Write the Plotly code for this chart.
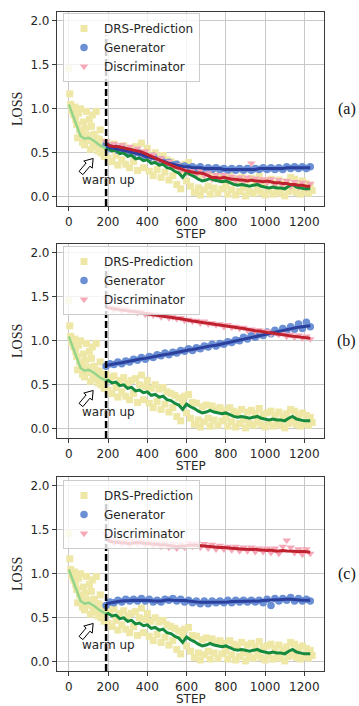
import numpy as np
import plotly.graph_objects as go
from plotly.subplots import make_subplots

# ---------------- data ----------------
SERIES_NAMES = ["DRS-Prediction", "Generator", "Discriminator"]
PANEL_LABELS = ["(a)", "(b)", "(c)"]
X_TICKS = [0, 200, 400, 600, 800, 1000, 1200]
Y_TICKS = [0.0, 0.5, 1.0, 1.5, 2.0]
WARMUP_STEP = 190

# DRS prediction scatter (shared by the three runs)
DRS_STEP = [0, 5, 10, 15, 20, 25, 30, 35, 40, 45, 50, 55, 60, 65, 70, 75, 80, 85, 90, 95,
            100, 105, 110, 115, 120, 125, 130, 135, 140, 145, 150, 155, 160, 165, 170, 175, 180, 185,
            190, 200, 210, 220, 230, 240, 250, 260, 270, 280, 290, 300, 310, 320, 330, 340, 350,
            360, 370, 380, 390, 400, 410, 420, 430, 440, 450, 460, 470, 480, 490, 500, 510, 520,
            530, 540, 550, 560, 570, 580, 590, 600, 610, 620, 630, 640, 650, 660, 670, 680, 690,
            700, 710, 720, 730, 740, 750, 760, 770, 780, 790, 800, 810, 820, 830, 840, 850, 860,
            870, 880, 890, 900, 910, 920, 930, 940, 950, 960, 970, 980, 990, 1000, 1010, 1020,
            1030, 1040, 1050, 1060, 1070, 1080, 1090, 1100, 1110, 1120, 1130, 1140, 1150, 1160,
            1170, 1180, 1190, 1200, 1210, 1220, 1230, 1240]
DRS_LOSS = [1.46, 1.17, 1.05, 0.98, 1.00, 0.93, 1.02, 0.88, 0.82, 0.67, 0.95, 0.76, 1.00, 0.72,
            0.62, 0.85, 0.59, 0.78, 0.97, 0.70, 0.64, 0.88, 0.54, 0.80, 0.93, 0.60, 0.71, 0.57,
            0.97, 0.66, 0.52, 0.65, 0.76, 0.50, 0.58, 0.62, 0.46, 0.55,
            0.62, 0.44, 0.58, 0.40, 0.60, 0.47, 0.36, 0.55, 0.42, 0.58, 0.37, 0.52, 0.33, 0.55,
            0.40, 0.57, 0.30, 0.50, 0.61, 0.33, 0.48, 0.55, 0.29, 0.46, 0.24, 0.50, 0.31, 0.45,
            0.22, 0.47, 0.28, 0.42, 0.19, 0.40, 0.24, 0.38, 0.14, 0.35, 0.09, 0.30, 0.37, 0.18,
            0.39, 0.12, 0.30, 0.05, 0.29, 0.10, 0.02, 0.25, 0.08, 0.27, 0.12, 0.03, 0.26, 0.10,
            0.22, 0.04, 0.24, 0.09, 0.21, 0.12, 0.03, 0.24, 0.08, 0.20, 0.02, 0.18, 0.06, 0.22,
            0.10, 0.01, 0.19, 0.06, 0.21, 0.04, 0.17, 0.08, 0.23, 0.05, 0.16, 0.02, 0.18, 0.07,
            0.20, 0.03, 0.15, 0.06, 0.19, 0.04, 0.14, 0.01, 0.17, 0.06, 0.22, 0.08, 0.20, 0.05,
            0.16, 0.03, 0.18, 0.06, 0.15, 0.04, 0.13, 0.07]

# DRS smoothed curve during warm up (light green) and after (dark green)
WARM_STEP = [0, 20, 40, 60, 80, 100, 120, 140, 160, 180, 190]
WARM_SMOOTH = [1.05, 0.93, 0.80, 0.69, 0.66, 0.67, 0.65, 0.61, 0.58, 0.56, 0.54]
DRS_SMOOTH_STEP = [190, 200, 220, 240, 260, 280, 300, 320, 340, 360, 380, 400, 420, 440, 460,
                   480, 500, 520, 540, 560, 580, 600, 620, 640, 660, 680, 700, 720, 740, 760,
                   780, 800, 820, 840, 860, 880, 900, 920, 940, 960, 980, 1000, 1020, 1040,
                   1060, 1080, 1100, 1120, 1140, 1160, 1180, 1200, 1220, 1230]
DRS_SMOOTH = [0.54, 0.55, 0.52, 0.53, 0.49, 0.50, 0.46, 0.47, 0.43, 0.44, 0.41, 0.42, 0.38,
              0.39, 0.36, 0.37, 0.33, 0.32, 0.29, 0.27, 0.22, 0.28, 0.25, 0.23, 0.20, 0.18,
              0.19, 0.21, 0.19, 0.18, 0.17, 0.18, 0.16, 0.14, 0.13, 0.14, 0.13, 0.12, 0.13,
              0.14, 0.12, 0.11, 0.10, 0.11, 0.10, 0.10, 0.09, 0.12, 0.14, 0.11, 0.10, 0.09,
              0.09, 0.09]

# Generator / Discriminator (after warm up)
GD_STEP = [190, 210, 230, 250, 270, 290, 310, 330, 350, 370, 390, 410, 430, 450, 470, 490,
           510, 530, 550, 570, 590, 610, 630, 650, 670, 690, 710, 730, 750, 770, 790, 810,
           830, 850, 870, 890, 910, 930, 950, 970, 990, 1010, 1030, 1050, 1070, 1090, 1110,
           1130, 1150, 1170, 1190, 1210, 1230]

# (a)
GEN_PTS_A = [0.59, 0.55, 0.57, 0.53, 0.55, 0.51, 0.52, 0.49, 0.51, 0.47, 0.47, 0.44, 0.46,
             0.42, 0.42, 0.39, 0.39, 0.36, 0.37, 0.34, 0.35, 0.33, 0.34, 0.32, 0.34, 0.31,
             0.33, 0.31, 0.33, 0.31, 0.32, 0.30, 0.32, 0.30, 0.32, 0.30, 0.32, 0.30, 0.32,
             0.31, 0.33, 0.31, 0.33, 0.31, 0.33, 0.31, 0.34, 0.32, 0.34, 0.32, 0.34, 0.32, 0.34]
GEN_LINE_A = [0.57, 0.56, 0.55, 0.54, 0.53, 0.52, 0.51, 0.50, 0.49, 0.48, 0.46, 0.45, 0.44,
              0.43, 0.41, 0.40, 0.38, 0.37, 0.36, 0.35, 0.34, 0.34, 0.33, 0.33, 0.33, 0.32,
              0.32, 0.32, 0.32, 0.32, 0.31, 0.31, 0.31, 0.31, 0.31, 0.31, 0.31, 0.31, 0.31,
              0.32, 0.32, 0.32, 0.32, 0.32, 0.32, 0.32, 0.33, 0.33, 0.33, 0.33, 0.33, 0.33, 0.33]
DIS_PTS_A = [0.63, 0.56, 0.60, 0.55, 0.59, 0.53, 0.57, 0.51, 0.55, 0.49, 0.52, 0.45, 0.48,
             0.41, 0.44, 0.37, 0.40, 0.33, 0.36, 0.30, 0.33, 0.27, 0.31, 0.25, 0.30, 0.24,
             0.27, 0.20, 0.25, 0.19, 0.25, 0.19, 0.23, 0.18, 0.22, 0.17, 0.22, 0.38, 0.21,
             0.16, 0.20, 0.16, 0.20, 0.14, 0.19, 0.13, 0.18, 0.12, 0.17, 0.11, 0.16, 0.10, 0.15]
DIS_LINE_A = [0.60, 0.58, 0.57, 0.57, 0.56, 0.55, 0.54, 0.53, 0.52, 0.51, 0.49, 0.47, 0.45,
              0.43, 0.41, 0.39, 0.37, 0.35, 0.33, 0.32, 0.30, 0.29, 0.28, 0.27, 0.27, 0.26,
              0.24, 0.22, 0.22, 0.21, 0.22, 0.21, 0.20, 0.20, 0.19, 0.19, 0.18, 0.19, 0.18,
              0.18, 0.17, 0.18, 0.17, 0.16, 0.16, 0.15, 0.15, 0.14, 0.14, 0.13, 0.13, 0.12, 0.12]

# (b)
GEN_PTS_B = [0.71, 0.74, 0.73, 0.76, 0.74, 0.77, 0.76, 0.79, 0.78, 0.81, 0.79, 0.82, 0.81,
             0.84, 0.83, 0.86, 0.84, 0.87, 0.86, 0.89, 0.88, 0.91, 0.89, 0.92, 0.91, 0.94,
             0.93, 0.96, 0.94, 0.97, 0.96, 0.99, 0.98, 1.01, 1.00, 1.04, 1.02, 1.06, 1.04,
             1.07, 1.06, 1.10, 1.08, 1.12, 1.09, 1.14, 1.11, 1.16, 1.13, 1.19, 1.14, 1.21, 1.16]
GEN_LINE_B = [0.72, 0.73, 0.74, 0.745, 0.75, 0.76, 0.77, 0.78, 0.79, 0.795, 0.80, 0.81, 0.82,
              0.83, 0.84, 0.845, 0.85, 0.86, 0.87, 0.88, 0.89, 0.895, 0.90, 0.91, 0.92, 0.93,
              0.94, 0.945, 0.95, 0.96, 0.97, 0.98, 0.99, 1.00, 1.01, 1.02, 1.03, 1.04, 1.05,
              1.055, 1.07, 1.08, 1.09, 1.10, 1.11, 1.12, 1.13, 1.14, 1.15, 1.155, 1.16, 1.165,
              1.17]
DIS_PTS_B = [1.47, 1.38, 1.35, 1.37, 1.34, 1.36, 1.33, 1.34, 1.32, 1.33, 1.30, 1.31, 1.29,
             1.30, 1.27, 1.29, 1.26, 1.27, 1.25, 1.26, 1.23, 1.24, 1.22, 1.23, 1.20, 1.22,
             1.19, 1.20, 1.18, 1.19, 1.16, 1.18, 1.15, 1.16, 1.14, 1.15, 1.12, 1.13, 1.11,
             1.12, 1.09, 1.11, 1.08, 1.09, 1.07, 1.08, 1.05, 1.07, 1.04, 1.06, 1.03, 1.05, 1.02]
DIS_LINE_B = [1.38, 1.37, 1.36, 1.355, 1.35, 1.345, 1.34, 1.33, 1.325, 1.32, 1.31, 1.30, 1.295,
              1.29, 1.28, 1.275, 1.27, 1.26, 1.255, 1.25, 1.24, 1.23, 1.225, 1.22, 1.21, 1.205,
              1.20, 1.19, 1.185, 1.18, 1.17, 1.165, 1.16, 1.15, 1.145, 1.14, 1.13, 1.12, 1.115,
              1.11, 1.10, 1.095, 1.09, 1.08, 1.075, 1.07, 1.06, 1.055, 1.05, 1.045, 1.04, 1.035,
              1.03]

# (c)
GEN_PTS_C = [0.64, 0.68, 0.67, 0.70, 0.68, 0.71, 0.69, 0.71, 0.69, 0.72, 0.69, 0.71, 0.68,
             0.70, 0.68, 0.71, 0.70, 0.72, 0.69, 0.71, 0.68, 0.70, 0.67, 0.69, 0.66, 0.69,
             0.66, 0.69, 0.67, 0.69, 0.67, 0.70, 0.67, 0.70, 0.68, 0.70, 0.68, 0.70, 0.68,
             0.70, 0.67, 0.71, 0.64, 0.72, 0.69, 0.72, 0.70, 0.73, 0.69, 0.72, 0.69, 0.71, 0.69]
GEN_LINE_C = [0.66, 0.67, 0.68, 0.685, 0.69, 0.69, 0.695, 0.70, 0.70, 0.70, 0.70, 0.695, 0.69,
              0.69, 0.69, 0.70, 0.705, 0.70, 0.70, 0.70, 0.695, 0.69, 0.685, 0.675, 0.675,
              0.675, 0.675, 0.68, 0.68, 0.68, 0.68, 0.68, 0.685, 0.685, 0.685, 0.69, 0.69,
              0.69, 0.69, 0.69, 0.695, 0.70, 0.70, 0.705, 0.705, 0.71, 0.71, 0.71, 0.705,
              0.705, 0.70, 0.70, 0.70]
DIS_PTS_C = [1.45, 1.39, 1.35, 1.37, 1.34, 1.37, 1.33, 1.37, 1.34, 1.37, 1.33, 1.36, 1.32,
             1.35, 1.31, 1.35, 1.30, 1.34, 1.29, 1.33, 1.30, 1.35, 1.31, 1.35, 1.30, 1.34,
             1.29, 1.33, 1.28, 1.32, 1.28, 1.31, 1.27, 1.31, 1.26, 1.30, 1.26, 1.30, 1.25,
             1.29, 1.25, 1.29, 1.24, 1.29, 1.23, 1.31, 1.38, 1.30, 1.24, 1.28, 1.22, 1.28, 1.23]
DIS_LINE_C = [1.39, 1.37, 1.36, 1.355, 1.35, 1.35, 1.345, 1.35, 1.355, 1.35, 1.345, 1.34,
              1.34, 1.335, 1.33, 1.33, 1.32, 1.315, 1.31, 1.31, 1.315, 1.325, 1.33, 1.325,
              1.32, 1.315, 1.31, 1.31, 1.305, 1.30, 1.30, 1.295, 1.29, 1.29, 1.285, 1.28, 1.28,
              1.275, 1.28, 1.27, 1.27, 1.265, 1.27, 1.26, 1.26, 1.265, 1.26, 1.26, 1.255, 1.25,
              1.255, 1.25, 1.245]

PANELS = [
    (GEN_PTS_A, GEN_LINE_A, DIS_PTS_A, DIS_LINE_A),
    (GEN_PTS_B, GEN_LINE_B, DIS_PTS_B, DIS_LINE_B),
    (GEN_PTS_C, GEN_LINE_C, DIS_PTS_C, DIS_LINE_C),
]

# ---------------- style ----------------
C_DRS = "#eee7a6"
C_WARM = "#95d58b"
C_DRS_LINE = "#168a3c"
C_GEN = "#6b8fd4"
C_GEN_LINE = "#2b3f9c"
C_DIS = "#f5a9b8"
C_DIS_LINE = "#c0212e"
TXT = "#262626"
SANS = "DejaVu Sans"
SERIF = "Liberation Serif"

W, H = 359, 706
ML, MR, MT, MB = 57, 35, 12, 35
PLOT_H = H - MT - MB
PANEL_PX = [(12, 206), (244, 438), (477, 671)]  # top, bottom in pixels
LEGEND_TOP_PX = [13, 246, 480]

fig = make_subplots(rows=3, cols=1)

for i, (gp, gl, dp, dl) in enumerate(PANELS):
    r = i + 1
    leg = "legend" if r == 1 else f"legend{r}"
    fig.add_trace(go.Scatter(x=DRS_STEP, y=DRS_LOSS, mode="markers", name=SERIES_NAMES[0],
                             marker=dict(symbol="square", size=7, color=C_DRS),
                             legend=leg, showlegend=True), row=r, col=1)
    fig.add_trace(go.Scatter(x=GD_STEP, y=gp, mode="markers", name=SERIES_NAMES[1],
                             marker=dict(symbol="circle", size=7.5, color=C_GEN),
                             legend=leg, showlegend=True), row=r, col=1)
    fig.add_trace(go.Scatter(x=GD_STEP, y=dp, mode="markers", name=SERIES_NAMES[2],
                             marker=dict(symbol="triangle-down", size=7.5, color=C_DIS),
                             legend=leg, showlegend=True), row=r, col=1)
    fig.add_trace(go.Scatter(x=WARM_STEP, y=WARM_SMOOTH, mode="lines",
                             line=dict(color=C_WARM, width=2.5), showlegend=False), row=r, col=1)
    fig.add_trace(go.Scatter(x=DRS_SMOOTH_STEP, y=DRS_SMOOTH, mode="lines",
                             line=dict(color=C_DRS_LINE, width=3), showlegend=False), row=r, col=1)
    fig.add_trace(go.Scatter(x=GD_STEP, y=gl, mode="lines",
                             line=dict(color=C_GEN_LINE, width=3), showlegend=False), row=r, col=1)
    fig.add_trace(go.Scatter(x=GD_STEP, y=dl, mode="lines",
                             line=dict(color=C_DIS_LINE, width=3), showlegend=False), row=r, col=1)

    top, bot = PANEL_PX[i]
    dom = [(H - MB - bot) / PLOT_H, (H - MB - top) / PLOT_H]
    sfx = "" if r == 1 else str(r)
    axis_common = dict(showgrid=True, gridcolor="#c8c8c8", gridwidth=1, zeroline=False,
                       showline=True, linecolor="#3a3a3a", linewidth=1.25, mirror=True,
                       ticks="outside", ticklen=4, tickwidth=1, tickcolor="#3a3a3a",
                       automargin=False,
                       tickfont=dict(family=SANS, size=12, color=TXT))
    fig.update_layout({
        f"xaxis{sfx}": dict(axis_common, domain=[0, 1], range=[-60, 1300], tickvals=X_TICKS,
                            anchor=f"y{sfx}"),
        f"yaxis{sfx}": dict(axis_common, domain=dom, range=[-0.105, 2.1], tickvals=Y_TICKS,
                            tickformat=".1f", anchor=f"x{sfx}"),
    })
    leg_y = (H - MB - LEGEND_TOP_PX[i]) / PLOT_H
    fig.update_layout({leg: dict(x=0.0225, y=leg_y, xanchor="left", yanchor="top",
                                 bgcolor="rgba(255,255,255,0.8)", bordercolor="#cccccc",
                                 borderwidth=1, tracegroupgap=0,
                                 font=dict(family=SANS, size=12, color=TXT))})

    xr, yr = f"x{sfx}", f"y{sfx}"
    # warm-up boundary
    fig.add_shape(type="line", xref=xr, yref=f"{yr} domain", x0=WARMUP_STEP, x1=WARMUP_STEP,
                  y0=0, y1=0.88, line=dict(color="black", width=2.5, dash="7px,3px"))
    # hollow block arrow (pixel-sized, anchored at its tail)
    ang = np.deg2rad(50)
    u = np.array([np.cos(ang), np.sin(ang)])
    n = np.array([-np.sin(ang), np.cos(ang)])
    pts = [(0, 2.5), (11, 2.5), (11, 5.5), (19, 0), (11, -5.5), (11, -2.5), (0, -2.5)]
    P = [t * u + s * n for t, s in pts]
    path = "M " + " L ".join(f"{p[0]:.2f},{p[1]:.2f}" for p in P) + " Z"
    fig.add_shape(type="path", xref=xr, yref=yr, xsizemode="pixel", ysizemode="pixel",
                  xanchor=62, yanchor=0.27, path=path, fillcolor="white",
                  line=dict(color="black", width=1))
    fig.add_annotation(xref=xr, yref=yr, x=200, y=0.19, text="warm up", showarrow=False,
                       xanchor="center", yanchor="middle",
                       font=dict(family=SANS, size=12, color=TXT))
    # panel tag
    fig.add_annotation(xref=f"{xr} domain", yref=f"{yr} domain", x=1.086, y=0.5,
                       text=PANEL_LABELS[i], showarrow=False, xanchor="center",
                       yanchor="middle",
                       font=dict(family=SERIF, size=16, color="#111111"))
    # axis titles
    fig.add_annotation(xref="paper", yref=f"{yr} domain", x=(17 - ML) / (W - ML - MR), y=0.5,
                       text="LOSS", textangle=-90, showarrow=False, xanchor="center",
                       yanchor="middle",
                       font=dict(family=SERIF, size=14, color=TXT))
    fig.add_annotation(xref=f"{xr} domain", yref=f"{yr} domain", x=0.5, y=-28 / 194,
                       text="STEP", showarrow=False, xanchor="center", yanchor="middle",
                       font=dict(family=SANS, size=12, color=TXT))

fig.update_layout(width=W, height=H, margin=dict(l=ML, r=MR, t=MT, b=MB, pad=0),
                  plot_bgcolor="white", paper_bgcolor="white", hovermode=False)

fig.write_html("out.html", config={"displayModeBar": False},
               post_script="document.body.style.margin='0';")
